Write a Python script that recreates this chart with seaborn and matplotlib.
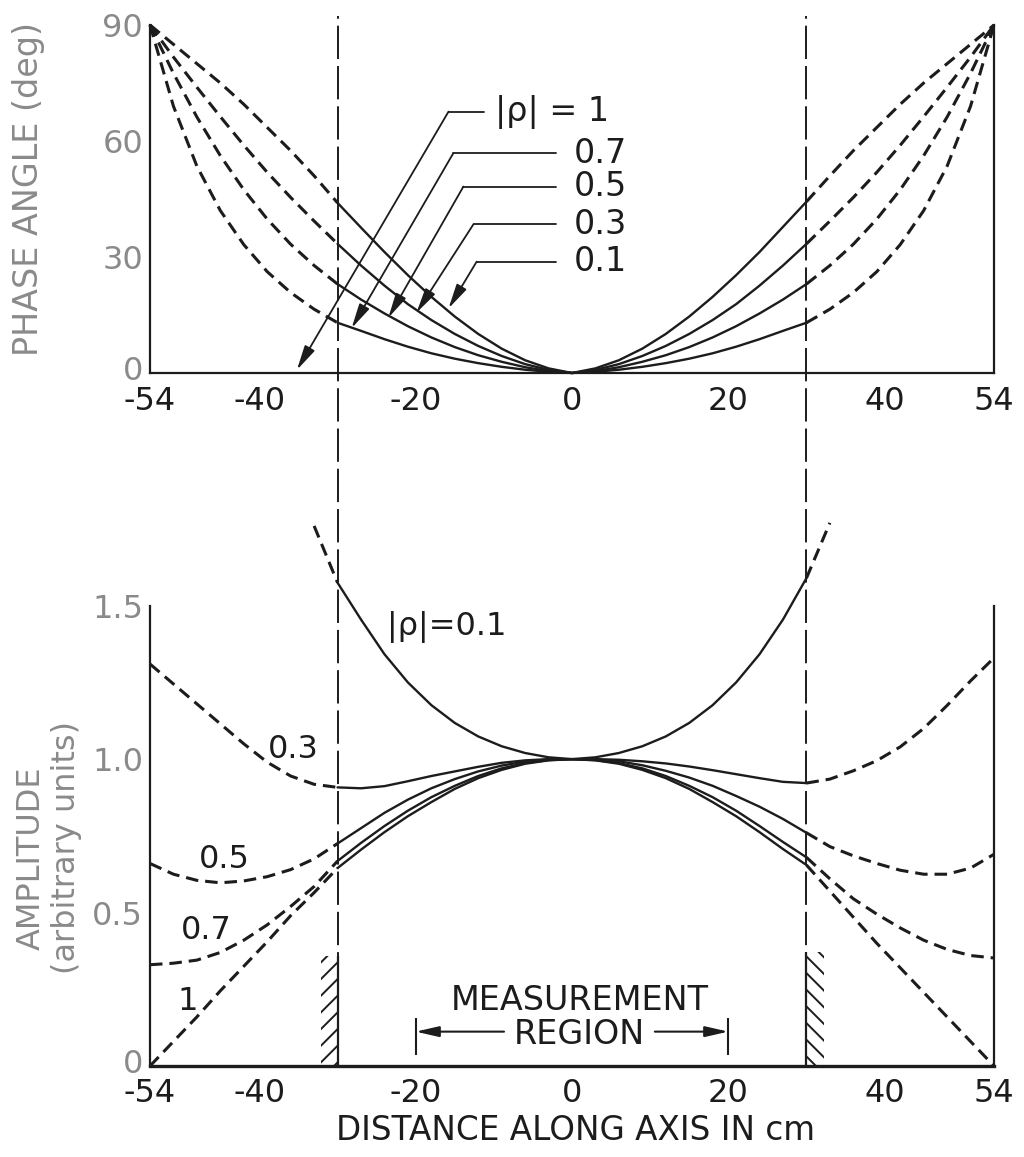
import numpy as np
import pandas as pd
import matplotlib
matplotlib.use("Agg")
import matplotlib.pyplot as plt
from matplotlib.transforms import ScaledTranslation
import seaborn as sns

# ---------------- data ----------------
x_cm = [-54, -51, -48, -45, -42, -39, -36, -33, -30, -27, -24, -21, -18, -15, -12, -9, -6, -3,
        0, 3, 6, 9, 12, 15, 18, 21, 24, 27, 30, 33, 36, 39, 42, 45, 48, 51, 54]

# phase angle (deg)
phase_rho_01 = [90, 85, 80, 75, 69.5, 63.5, 57.5, 51, 44, 37.6, 31.3, 25.3, 19.7, 14.6, 10.1, 6.3, 3.3, 1.2,
                0, 1.2, 3.3, 6.3, 10.1, 14.6, 19.7, 25.3, 31.3, 37.8, 44.3, 51, 57.5, 63.5, 69.5, 75, 80, 85, 90]
phase_rho_03 = [90, 81.7, 73.9, 66.3, 58.9, 51.9, 45.4, 39.3, 33.4, 27.8, 22.6, 17.8, 13.7, 10.1, 7.0, 4.4, 2.3, 0.8,
                0, 0.8, 2.3, 4.4, 7.0, 10.1, 13.7, 17.8, 22.6, 27.8, 33.4, 39.3, 45.4, 51.9, 58.9, 66.3, 73.9, 81.7, 90]
phase_rho_05 = [90, 77.5, 66.2, 56.2, 47.4, 39.8, 33.3, 27.8, 23, 19.0, 15.4, 12.1, 9.2, 6.7, 4.6, 2.9, 1.5, 0.5,
                0, 0.5, 1.5, 2.9, 4.6, 6.7, 9.2, 12.1, 15.4, 19.0, 23, 27.8, 33.3, 39.8, 47.4, 56.2, 66.2, 77.5, 90]
phase_rho_07 = [90, 69, 53.5, 42, 33.2, 26.2, 20.8, 16.5, 13, 10.9, 8.75, 6.8, 5.1, 3.7, 2.55, 1.6, 0.85, 0.3,
                0, 0.3, 0.85, 1.6, 2.55, 3.7, 5.1, 6.8, 8.75, 10.9, 13, 16.5, 20.8, 26.2, 33.2, 42, 53.5, 69, 90]

nan = np.nan
# amplitude (arbitrary units)
amp_rho_01 = [nan, nan, nan, nan, nan, nan, nan, 1.76, 1.575, 1.455, 1.342, 1.25, 1.176, 1.118, 1.074, 1.042, 1.02, 1.006,
              1.0, 1.006, 1.02, 1.042, 1.074, 1.118, 1.176, 1.25, 1.342, 1.455, 1.59, 1.77, nan, nan, nan, nan, nan, nan, nan]
amp_rho_03 = [1.31, 1.245, 1.18, 1.115, 1.05, 0.99, 0.945, 0.918, 0.908, 0.905, 0.912, 0.928, 0.945, 0.96, 0.975, 0.988, 0.996, 1.0,
              1.0, 1.0, 0.998, 0.993, 0.986, 0.976, 0.964, 0.951, 0.938, 0.926, 0.922, 0.935, 0.962, 0.995, 1.04, 1.10, 1.175, 1.255, 1.33]
amp_rho_05 = [0.66, 0.625, 0.605, 0.597, 0.603, 0.617, 0.64, 0.675, 0.725, 0.775, 0.825, 0.868, 0.905, 0.935, 0.96, 0.979, 0.992, 0.999,
              1.0, 0.999, 0.993, 0.98, 0.962, 0.94, 0.913, 0.88, 0.845, 0.805, 0.76, 0.715, 0.685, 0.66, 0.638, 0.625, 0.625, 0.645, 0.69]
amp_rho_07 = [0.33, 0.335, 0.345, 0.37, 0.41, 0.46, 0.52, 0.585, 0.668, 0.727, 0.782, 0.832, 0.876, 0.913, 0.945, 0.97, 0.987, 0.997,
              1.0, 0.997, 0.987, 0.97, 0.945, 0.913, 0.876, 0.832, 0.782, 0.73, 0.68, 0.61, 0.545, 0.495, 0.45, 0.41, 0.38, 0.36, 0.352]
amp_rho_1 = [0.0, 0.08, 0.16, 0.245, 0.325, 0.405, 0.49, 0.565, 0.645, 0.705, 0.762, 0.814, 0.86, 0.903, 0.938, 0.965, 0.985, 0.996,
             1.0, 0.996, 0.985, 0.965, 0.938, 0.903, 0.86, 0.814, 0.762, 0.707, 0.655, 0.57, 0.485, 0.40, 0.32, 0.24, 0.16, 0.08, 0.0]

x_tick_values = [-54, -40, -20, 0, 20, 40, 54]
x_tick_labels = ["-54", "-40", "-20", "0", "20", "40", "54"]
phase_ticks = [0, 30, 60, 90]
phase_tick_labels = ["0", "30", "60", "90"]
amp_ticks = [0, 0.5, 1.0, 1.5]
amp_tick_labels = ["0", "0.5", "1.0", "1.5"]

boundary_cm = [-30, 30]          # dashed vertical lines / ends of solid parts
measurement_cm = [-20, 20]       # measurement region
wall_height = [0.36, 0.37]       # hatched walls at the boundaries

# ---------------- style ----------------
sns.set_theme(style="white")
plt.rcParams["font.family"] = ["DejaVu Sans"]
plt.rcParams["lines.scale_dashes"] = False
plt.rcParams["hatch.linewidth"] = 1.4
INK = "#1c1c1c"
GRAY = "#8a8a8a"
FS = 23
DASH = (0, (9, 5))
VDASH = (0, (24, 5))

fig = plt.figure(figsize=(10.24, 11.57), dpi=100)
W_PX, H_PX = 1024, 1157
left, width = 150 / W_PX, 844 / W_PX
ax_top = fig.add_axes([left, 1 - 373 / H_PX, width, (373 - 25) / H_PX])
ax_bot = fig.add_axes([left, 1 - 1066 / H_PX, width, (1066 - 529) / H_PX])


def draw_curve(ax, xs, ys, lw=1.7):
    df = pd.DataFrame({"x": xs, "y": ys}).dropna()
    lo, hi = boundary_cm
    inner = df[(df.x >= lo) & (df.x <= hi)]
    outer_l = df[df.x <= lo]
    outer_r = df[df.x >= hi]
    if len(inner) > 1:
        sns.lineplot(data=inner, x="x", y="y", ax=ax, color=INK, lw=lw,
                     errorbar=None, clip_on=False)
    for part in (outer_l, outer_r):
        if len(part) > 1:
            sns.lineplot(data=part, x="x", y="y", ax=ax, color=INK, lw=lw + 0.5,
                         linestyle=DASH, errorbar=None, clip_on=False)


for ys in (phase_rho_01, phase_rho_03, phase_rho_05, phase_rho_07):
    draw_curve(ax_top, x_cm, ys)
for ys in (amp_rho_01, amp_rho_03, amp_rho_05, amp_rho_07, amp_rho_1):
    draw_curve(ax_bot, x_cm, ys)

# axes styling
for ax, yt, ytl, ylim in ((ax_top, phase_ticks, phase_tick_labels, (0, 90)),
                          (ax_bot, amp_ticks, amp_tick_labels, (0, 1.75))):
    ax.set_facecolor("none")
    ax.set_xlim(-54, 54)
    ax.set_ylim(*ylim)
    ax.set_xticks(x_tick_values)
    ax.set_xticklabels(x_tick_labels)
    ax.set_yticks(yt)
    ax.set_yticklabels(ytl)
    ax.set_xlabel("")
    ax.set_ylabel("")
    ax.grid(False)
    ax.spines["top"].set_visible(False)
    for s in ("left", "right", "bottom"):
        ax.spines[s].set_color(INK)
        ax.spines[s].set_linewidth(1.6)
    ax.tick_params(axis="x", direction="in", length=9, width=1.4, color=INK,
                   labelsize=FS, labelcolor=INK)
    ax.tick_params(axis="y", direction="in", length=11, width=1.4, color=INK,
                   labelsize=FS, labelcolor=GRAY, pad=5)

ax_top.tick_params(axis="x", pad=9)
ax_bot.tick_params(axis="x", pad=8.6)
ax_bot.spines["bottom"].set_linewidth(2.4)
ax_bot.spines["left"].set_bounds(0, 1.5)
ax_bot.spines["right"].set_bounds(0, 1.5)

# lift the "0" y tick labels slightly so they clear the "-54" x labels
lift = ScaledTranslation(0, 5 / 100, fig.dpi_scale_trans)
for ax in (ax_top, ax_bot):
    lbl = ax.get_yticklabels()[0]
    lbl.set_transform(lbl.get_transform() + lift)

# dashed boundary lines running through both panels
for xb in boundary_cm:
    ax_bot.axvline(xb, ymin=0, ymax=1.956, clip_on=False, color=INK, lw=1.4,
                   linestyle=VDASH)

# hatched walls
(xl, xr), (hl, hr) = boundary_cm, wall_height
ax_bot.fill_betweenx([0, hl], xl - 2.1, xl, facecolor="none", edgecolor=INK,
                     hatch="//", linewidth=0)
ax_bot.fill_betweenx([0, hr], xr, xr + 2.3, facecolor="none", edgecolor=INK,
                     hatch="\\\\", linewidth=0)
ax_bot.vlines([xl, xr], 0, [hl, hr], color=INK, lw=1.6)

# measurement region
m_lo, m_hi = measurement_cm
ax_bot.vlines([m_lo, m_hi], 0.035, 0.155, color=INK, lw=1.5)
arrow_kw = dict(arrowstyle="-|>,head_length=0.7,head_width=0.16", color=INK, lw=1.5,
                shrinkA=0, shrinkB=0, mutation_scale=20)
ax_bot.annotate("", xy=(m_lo, 0.112), xytext=(-8.7, 0.112), arrowprops=arrow_kw)
ax_bot.annotate("", xy=(m_hi, 0.112), xytext=(10.6, 0.112), arrowprops=arrow_kw)
ax_bot.text(1.0, 0.212, "MEASUREMENT", ha="center", va="center", fontsize=24, color=INK)
ax_bot.text(1.0, 0.103, "REGION", ha="center", va="center", fontsize=24, color=INK)

# amplitude curve labels
ax_bot.text(-23.7, 1.43, "|ρ|=0.1", ha="left", va="center", fontsize=FS, color=INK)
ax_bot.text(-35.6, 1.03, "0.3", ha="center", va="center", fontsize=FS, color=INK)
ax_bot.text(-44.5, 0.672, "0.5", ha="center", va="center", fontsize=FS, color=INK)
ax_bot.text(-46.8, 0.443, "0.7", ha="center", va="center", fontsize=FS, color=INK)
ax_bot.text(-49.2, 0.209, "1", ha="center", va="center", fontsize=FS, color=INK)

# phase curve labels with leader arrows
phase_labels = [
    ("|ρ| = 1", 67.6, -15.8, -11.2, -9.9, (-35.2, 0.8)),
    ("0.7", 56.8, -15.2, -2.0, 0.2, (-28.2, 11.6)),
    ("0.5", 48.2, -13.9, -2.0, 0.2, (-23.5, 14.3)),
    ("0.3", 38.5, -12.6, -2.0, 0.2, (-19.9, 15.6)),
    ("0.1", 28.8, -12.2, -2.0, 0.2, (-15.8, 16.7)),
]
lead_kw = dict(arrowstyle="-|>,head_length=0.75,head_width=0.17", color=INK, lw=1.3,
               shrinkA=0, shrinkB=0, mutation_scale=20)
for text, ly, cx, ex, tx, tip in phase_labels:
    ax_top.plot([cx, ex], [ly, ly], color=INK, lw=1.3, clip_on=False)
    ax_top.annotate("", xy=tip, xytext=(cx, ly), arrowprops=lead_kw)
    ax_top.text(tx, ly, text, ha="left", va="center", fontsize=FS + 1, color=INK)

# axis titles
fig.text(29 / W_PX, 1 - 189 / H_PX, "PHASE ANGLE (deg)", rotation=90, ha="center",
         va="center", fontsize=24, color=GRAY)
fig.text(31 / W_PX, 1 - 858 / H_PX, "AMPLITUDE", rotation=90, ha="center",
         va="center", fontsize=23, color=GRAY)
fig.text(67 / W_PX, 1 - 848 / H_PX, "(arbitrary units)", rotation=90, ha="center",
         va="center", fontsize=23, color=GRAY)
fig.text(575 / W_PX, 1 - 1130 / H_PX, "DISTANCE ALONG AXIS IN cm", ha="center",
         va="center", fontsize=23.5, color=INK)

fig.savefig("out.png", dpi=100, facecolor="white")
